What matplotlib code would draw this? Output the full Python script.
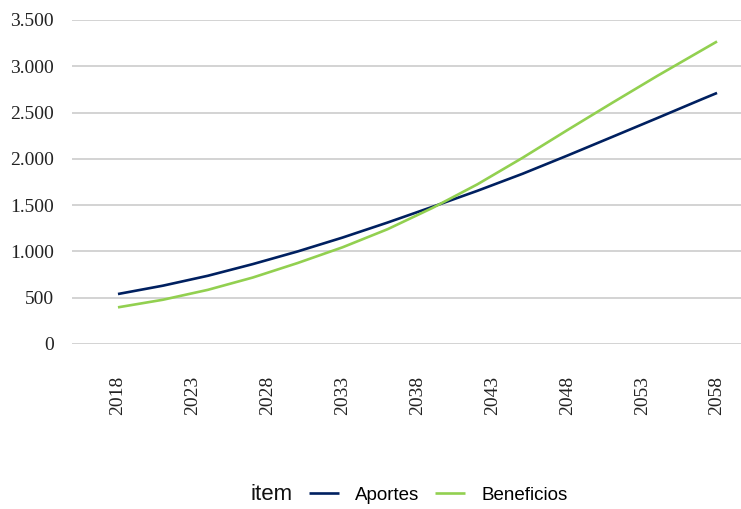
import numpy as np
import matplotlib
matplotlib.use("Agg")
import matplotlib.pyplot as plt
from matplotlib.ticker import FuncFormatter

# Valores
years = [2018, 2021, 2024, 2027, 2030, 2033, 2036, 2039, 2042, 2045, 2048, 2051, 2054, 2057, 2058]
aportes = [540, 630, 737, 863, 1000, 1150, 1312, 1482, 1655, 1838, 2035, 2237, 2440, 2645, 2712]
beneficios = [396, 478, 585, 718, 875, 1045, 1240, 1470, 1725, 2010, 2310, 2605, 2895, 3175, 3268]
xticks = [2018, 2023, 2028, 2033, 2038, 2043, 2048, 2053, 2058]
yticks = [0, 500, 1000, 1500, 2000, 2500, 3000, 3500]

W, H = 741, 509
fig = plt.figure(figsize=(W / 100, H / 100), dpi=100)
ax = fig.add_axes([72 / W, (H - 344) / H, (W - 72) / W, (344 - 20) / H])

ax.plot(years, aportes, color='#002060', lw=1.9, label='Aportes', solid_capstyle='butt')
ax.plot(years, beneficios, color='#92D050', lw=1.9, label='Beneficios', solid_capstyle='butt')

ax.set_ylim(0, 3500)
ax.set_xlim(2014.93, 2059.6)
ax.set_yticks(yticks)
ax.yaxis.set_major_formatter(FuncFormatter(lambda v, p: '{:,.0f}'.format(v).replace(',', '.')))
ax.set_xticks(xticks)
ax.set_xticklabels([str(y) for y in xticks], rotation=90)

for lab in ax.get_xticklabels() + ax.get_yticklabels():
    lab.set_family(['Liberation Serif', 'DejaVu Serif'])
    lab.set_fontsize(14)
    lab.set_color('#222222')

ax.tick_params(axis='both', length=0)
ax.tick_params(axis='y', pad=13)
ax.tick_params(axis='x', pad=23)
ax.grid(axis='y', color='#C8C8C8', lw=1.1)
ax.set_axisbelow(True)
for s in ax.spines.values():
    s.set_visible(False)

# Leyenda abajo con titulo a la izquierda
fig.text(250 / W, (H - 495) / H, 'item', family='Liberation Sans', fontsize=16,
         va='center', ha='left', color='#111111')
leg = fig.legend(loc='center left', bbox_to_anchor=(309 / W, (H - 495) / H), ncol=2,
                 frameon=False, prop={'family': 'Liberation Sans', 'size': 13.5},
                 handlelength=1.6, handletextpad=0.85, columnspacing=0.85,
                 borderaxespad=0, borderpad=0)

fig.savefig('out.png', dpi=100)
